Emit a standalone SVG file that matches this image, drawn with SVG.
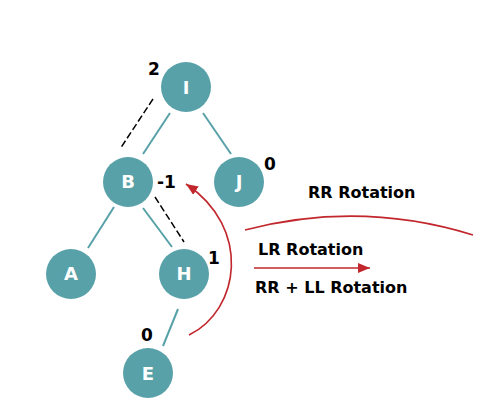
<svg xmlns="http://www.w3.org/2000/svg" width="500" height="402" viewBox="0 0 500 402">
<style>
.node{fill:#58a1a9}
.lbl{fill:#fff;font-family:"DejaVu Sans",sans-serif;font-weight:bold;font-size:18px;text-anchor:middle}
.edge{stroke:#58a1a9;stroke-width:2;fill:none}
.dash{stroke:#000;stroke-width:1.5;stroke-dasharray:7,3;fill:none}
.red{stroke:#c1272d;stroke-width:1.6;fill:none}
.t{fill:#000;font-family:"DejaVu Sans",sans-serif;font-weight:bold;font-size:16px}
.d{fill:#000;font-family:"DejaVu Sans",sans-serif;font-weight:bold;font-size:17px}
</style>
<defs>
<marker id="ah" viewBox="0 0 12 10" refX="12" refY="5" markerWidth="12" markerHeight="10" markerUnits="userSpaceOnUse" orient="auto">
<path d="M0,0 L12,5 L0,10 Z" fill="#c1272d"/>
</marker>
</defs>
<rect width="500" height="402" fill="#fff"/>
<g id="connectors">
<line class="edge" x1="170" y1="113" x2="143" y2="154"/>
<line class="edge" x1="203" y1="113" x2="231" y2="154"/>
<line class="edge" x1="114" y1="207" x2="88" y2="248"/>
<line class="edge" x1="143" y1="208" x2="172" y2="247"/>
<line class="edge" x1="178" y1="309" x2="163" y2="346"/>
<line class="dash" x1="153" y1="99" x2="120" y2="149"/>
<line class="dash" x1="155" y1="197" x2="184" y2="242"/>
<path class="red" d="M189,335 C240,310 252,228 186,184" marker-end="url(#ah)"/>
<path class="red" d="M245,230 Q360,200 473,235"/>
<line class="red" x1="254" y1="268" x2="370" y2="268" marker-end="url(#ah)"/>
</g>
<g id="node-I"><circle class="node" cx="186" cy="87" r="25"/><text class="lbl" x="186" y="94">I</text></g>
<g id="node-B"><circle class="node" cx="128" cy="182" r="25"/><text class="lbl" x="128" y="188">B</text></g>
<g id="node-J"><circle class="node" cx="239" cy="182" r="25"/><text class="lbl" x="239" y="188">J</text></g>
<g id="node-A"><circle class="node" cx="71" cy="274" r="25"/><text class="lbl" x="71" y="280">A</text></g>
<g id="node-H"><circle class="node" cx="184" cy="274" r="25"/><text class="lbl" x="184" y="280">H</text></g>
<g id="node-E"><circle class="node" cx="148" cy="373" r="25"/><text class="lbl" x="148" y="380">E</text></g>
<g id="labels">
<text class="d" x="148" y="75">2</text>
<text class="d" x="264" y="170">0</text>
<text class="d" x="157" y="188">-1</text>
<text class="d" x="208" y="264">1</text>
<text class="d" x="141" y="341">0</text>
<text class="t" x="308" y="198">RR Rotation</text>
<text class="t" x="258" y="255">LR Rotation</text>
<text class="t" x="255" y="293">RR + LL Rotation</text>
</g>
</svg>
